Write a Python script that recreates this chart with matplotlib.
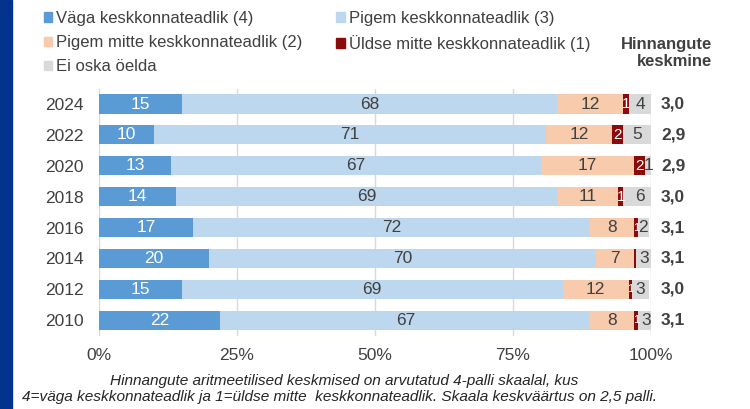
import matplotlib
matplotlib.use("Agg")
from matplotlib import pyplot as plt
from matplotlib.patches import Rectangle, Patch

plt.rcParams['font.family'] = ['Liberation Sans', 'DejaVu Sans']

years = ["2024", "2022", "2020", "2018", "2016", "2014", "2012", "2010"]
vaga = [15, 10, 13, 14, 17, 20, 15, 22]
pigem = [68, 71, 67, 69, 72, 70, 69, 67]
pigem_mitte = [12, 12, 17, 11, 8, 7, 12, 8]
uldse_mitte = [1, 2, 2, 1, 0.6, 0.3, 0.6, 0.6]
ei_oska = [4, 5, 1, 6, 2, 3, 3, 3]
keskmine = ["3,0", "2,9", "2,9", "3,0", "3,1", "3,1", "3,0", "3,1"]

series = [
    ("Väga keskkonnateadlik (4)", vaga, "#5b9bd5", "white"),
    ("Pigem keskkonnateadlik (3)", pigem, "#bdd7ee", "#404040"),
    ("Pigem mitte keskkonnateadlik (2)", pigem_mitte, "#f8cbad", "#404040"),
    ("Üldse mitte keskkonnateadlik (1)", uldse_mitte, "#8b0a0a", "white"),
    ("Ei oska öelda", ei_oska, "#d9d9d9", "#404040"),
]

fig = plt.figure(figsize=(7.5, 4.09), dpi=100)
fig.patches.append(Rectangle((0, 0), 12 / 750, 1, transform=fig.transFigure,
                             color="#00338d", zorder=0))
ax = fig.add_axes([99 / 750, 1 - 335.6 / 409, 552 / 750, 247 / 409])

y = list(range(len(years)))
left = [0] * len(years)
for name, vals, color, tcolor in series:
    ax.barh(y, vals, left=left, height=0.62, color=color, label=name, zorder=2)
    for i, v in enumerate(vals):
        if v >= 0.5:
            if name.startswith("Üldse"):
                fs = 11 if v >= 1 else 8
            else:
                fs = 12.5
            ax.text(left[i] + v / 2, i, f"{round(v)}", ha="center", va="center",
                    color=tcolor, fontsize=fs, zorder=3)
    left = [l + v for l, v in zip(left, vals)]

for i, m in enumerate(keskmine):
    ax.text(104.0, i, m, ha="center", va="center", fontsize=12.5,
            fontweight="bold", color="#404040", clip_on=False)

ax.set_xlim(0, 100)
ax.set_ylim(len(years) - 0.5, -0.5)
ax.set_yticks(y)
ax.set_yticklabels(years)
ax.set_xticks([0, 25, 50, 75, 100])
ax.set_xticklabels(["0%", "25%", "50%", "75%", "100%"])
ax.tick_params(length=0, labelsize=12.5, labelcolor="#404040")
ax.tick_params(axis="x", pad=9)
ax.tick_params(axis="y", pad=11)
ax.grid(axis="x", color="#d9d9d9", linewidth=1, zorder=0)
for s in ax.spines.values():
    s.set_visible(False)

handles = [Patch(color=c) for _, _, c, _ in series]
labels = [n for n, _, _, _ in series]
order = [0, 2, 4, 1, 3]
fig.legend([handles[k] for k in order], [labels[k] for k in order],
           loc="upper left", bbox_to_anchor=(29 / 750, 1 + 4 / 409), ncol=2,
           frameon=False, fontsize=12, handlelength=0.5, handleheight=0.5,
           handletextpad=0.25, columnspacing=2.0, labelspacing=0.55,
           labelcolor="#404040")

fig.text(712 / 750, 1 - 53 / 409, "Hinnangute\nkeskmine", ha="right", va="center",
         fontsize=12, fontweight="bold", color="#404040", linespacing=1.1)

fig.text(344 / 750, 1 - 381 / 409,
         "Hinnangute aritmeetilised keskmised on arvutatud 4-palli skaalal, kus",
         ha="center", va="center", fontsize=11.1, style="italic", color="#262626")
fig.text(340 / 750, 1 - 397 / 409,
         "4=väga keskkonnateadlik ja 1=üldse mitte  keskkonnateadlik. Skaala keskväärtus on 2,5 palli.",
         ha="center", va="center", fontsize=11.1, style="italic", color="#262626")

fig.savefig("out.png", dpi=100)
